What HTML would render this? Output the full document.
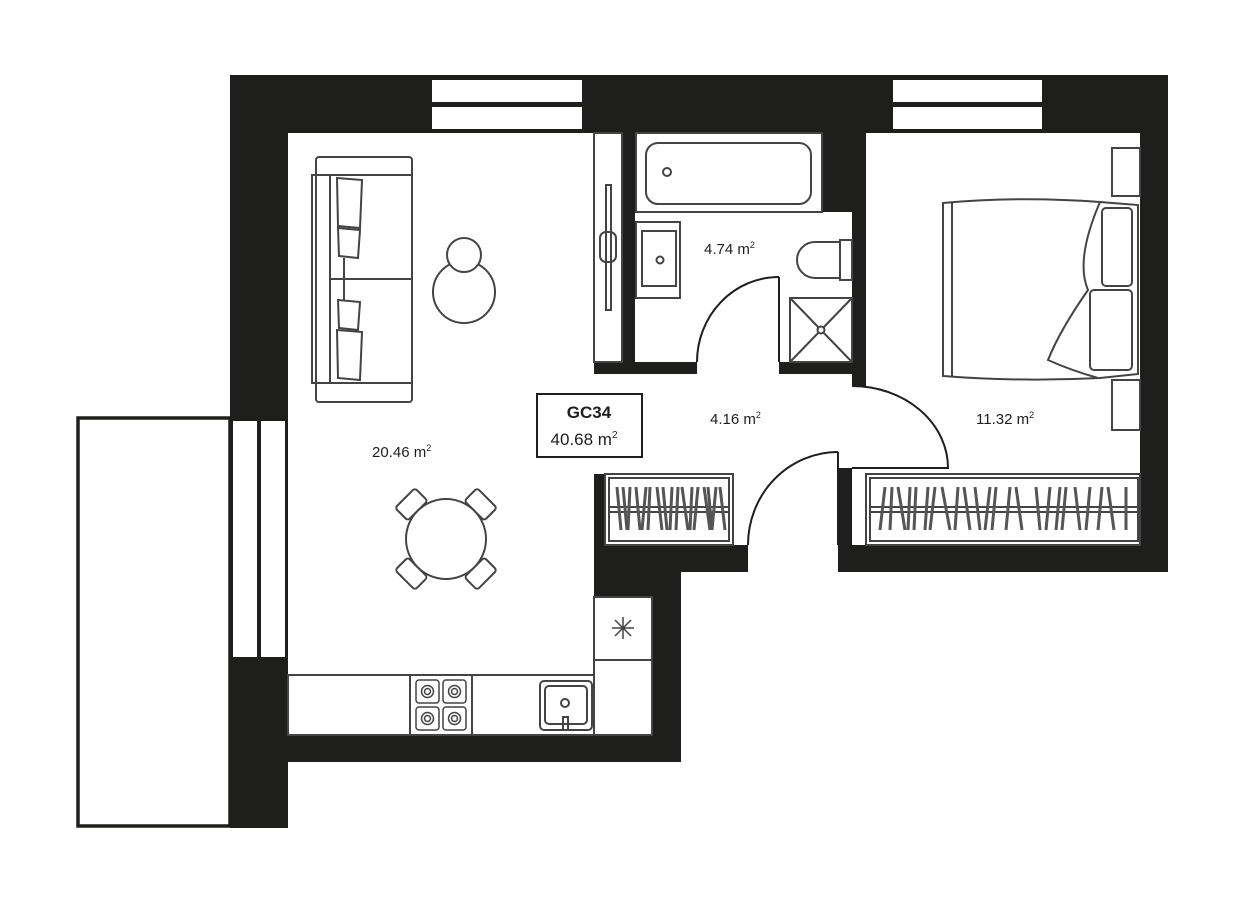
<!DOCTYPE html>
<html><head><meta charset="utf-8"><style>html,body{margin:0;padding:0;background:#fff}svg{display:block}</style></head>
<body>
<svg width="1244" height="904" viewBox="0 0 1244 904" xmlns="http://www.w3.org/2000/svg" font-family="Liberation Sans, sans-serif">
<rect width="1244" height="904" fill="#fff"/>
<g fill="#1e1e1c">
<rect x="230" y="75" width="938" height="58"/>
<rect x="230" y="75" width="58" height="753"/>
<rect x="1140" y="75" width="28" height="497"/>
<rect x="838" y="545" width="330" height="27"/>
<rect x="838" y="468" width="14" height="104"/>
<rect x="230" y="735" width="451" height="27"/>
<rect x="652" y="572" width="29" height="190"/>
<rect x="594" y="545" width="154" height="27"/>
<rect x="594" y="474" width="11" height="123"/>
<rect x="594" y="572" width="87" height="25"/>
<rect x="622" y="133" width="13" height="241"/>
<rect x="594" y="362" width="103" height="12"/>
<rect x="779" y="362" width="87" height="12"/>
<rect x="822" y="133" width="44" height="79"/>
<rect x="852" y="133" width="14" height="253"/>
</g>
<g fill="#fff">
<rect x="432" y="80" width="150" height="22"/><rect x="432" y="107" width="150" height="22"/>
<rect x="893" y="80" width="149" height="22"/><rect x="893" y="107" width="149" height="22"/>
<rect x="233" y="421" width="24" height="236"/><rect x="261" y="421" width="24" height="236"/>
</g>
<g fill="none" stroke="#444" stroke-width="2">
<rect x="78" y="418" width="152" height="408" stroke="#1e1e1c" stroke-width="3.5"/>
<rect x="594" y="133" width="28" height="229"/>
<rect x="606" y="185" width="5" height="125"/>
<rect x="600" y="232" width="16" height="30" rx="6"/>
<rect x="636" y="133" width="186" height="79"/>
<rect x="646" y="143" width="165" height="61" rx="12"/>
<circle cx="667" cy="172" r="4"/>
<rect x="636" y="222" width="44" height="76"/>
<rect x="642" y="231" width="34" height="55"/>
<circle cx="660" cy="260" r="3.5"/>
<path d="M840 242 H815 A18 18 0 0 0 815 278 H840 Z"/>
<rect x="840" y="240" width="12" height="40"/>
<rect x="790" y="298" width="62" height="64"/>
<path d="M790 298 L852 362 M852 298 L790 362"/>
<circle cx="821" cy="330" r="3.5" fill="#fff"/>
<rect x="316" y="157" width="96" height="245" rx="3"/>
<rect x="312" y="175" width="100" height="208"/>
<line x1="330" y1="175" x2="330" y2="383"/>
<line x1="330" y1="279" x2="412" y2="279"/>
<path d="M337 178 L362 180 L360 228 L338 226 Z"/>
<path d="M338 228 L360 230 L358 258 L339 256 Z"/>
<path d="M338 300 L360 302 L358 330 L339 328 Z"/>
<path d="M337 330 L362 332 L360 380 L338 378 Z"/>
<line x1="344" y1="258" x2="344" y2="300"/>
<circle cx="464" cy="292" r="31"/>
<circle cx="464" cy="255" r="17" fill="#fff"/>
<g transform="translate(446,539)">
<rect x="-14" y="-58" width="28" height="18" rx="3" transform="rotate(-45)"/>
<rect x="-14" y="-58" width="28" height="18" rx="3" transform="rotate(45)"/>
<rect x="-14" y="-58" width="28" height="18" rx="3" transform="rotate(135)"/>
<rect x="-14" y="-58" width="28" height="18" rx="3" transform="rotate(225)"/>
<circle r="40" fill="#fff"/>
</g>
<rect x="288" y="675" width="306" height="60"/>
<rect x="594" y="597" width="58" height="138"/>
<line x1="594" y1="660" x2="652" y2="660"/>
<path d="M612 628 H634 M623 617 V639 M615 620 L631 636 M631 620 L615 636" stroke-width="1.5"/>
<rect x="410" y="675" width="62" height="60"/>
<g stroke-width="1.5">
<rect x="416" y="680" width="23" height="23" rx="3"/><rect x="443" y="680" width="23" height="23" rx="3"/>
<rect x="416" y="707" width="23" height="23" rx="3"/><rect x="443" y="707" width="23" height="23" rx="3"/>
<circle cx="427.5" cy="691.5" r="6"/><circle cx="454.5" cy="691.5" r="6"/><circle cx="427.5" cy="718.5" r="6"/><circle cx="454.5" cy="718.5" r="6"/>
<circle cx="427.5" cy="691.5" r="3"/><circle cx="454.5" cy="691.5" r="3"/><circle cx="427.5" cy="718.5" r="3"/><circle cx="454.5" cy="718.5" r="3"/>
</g>
<rect x="540" y="681" width="52" height="49" rx="4"/>
<rect x="545" y="686" width="42" height="38" rx="4"/>
<circle cx="565" cy="703" r="4"/>
<path d="M563 730 V717 H568 V730"/>
<rect x="605" y="474" width="128" height="71"/>
<rect x="609" y="478" width="120" height="63"/>
<line x1="609" y1="507" x2="729" y2="507"/><line x1="609" y1="512" x2="729" y2="512"/>
<rect x="866" y="474" width="274" height="71"/>
<rect x="870" y="478" width="268" height="63"/>
<line x1="870" y1="507" x2="1138" y2="507"/><line x1="870" y1="512" x2="1138" y2="512"/>
</g>
<g stroke="#555" stroke-width="3">
<path d="M617 487 L621 530 M623 487 L627 530 M630 487 L628 530 M636 487 L640 530 M646 487 L642 530 M650 487 L648 530 M657 487 L662 530 M663 487 L667 530 M672 487 L670 530 M678 487 L676 530 M682 487 L688 530 M692 487 L690 530 M698 487 L694 530 M704 487 L710 530 M708 487 L712 530 M716 487 L712 530 M720 487 L725 530"/>
<path d="M885 487 L880 530 M892 487 L890 530 M898 487 L905 530 M910 487 L908 530 M916 487 L914 530 M928 487 L925 530 M935 487 L930 530 M942 487 L950 530 M958 487 L955 530 M964 487 L970 530 M975 487 L980 530 M990 487 L985 530 M996 487 L992 530 M1010 487 L1006 530 M1016 487 L1022 530 M1036 487 L1040 530 M1050 487 L1046 530 M1060 487 L1056 530 M1066 487 L1062 530 M1075 487 L1080 530 M1090 487 L1086 530 M1102 487 L1098 530 M1108 487 L1114 530 M1126 487 L1126 530"/>
</g>
<g fill="none" stroke="#444" stroke-width="2">
<rect x="1112" y="148" width="28" height="48"/>
<rect x="1112" y="380" width="28" height="50"/>
<path d="M943 203 Q1020 196 1100 202 L1138 205 L1138 374 L1100 378 Q1020 382 943 376 Z"/>
<line x1="952" y1="203" x2="952" y2="376"/>
<path d="M1100 202 Q1075 260 1088 290 Q1060 330 1048 360 Q1070 370 1098 378"/>
<rect x="1102" y="208" width="30" height="78" rx="4"/>
<rect x="1090" y="290" width="42" height="80" rx="4"/>
</g>
<g fill="none" stroke="#1e1e1c" stroke-width="2">
<path d="M779 277 A82 85 0 0 0 697 362"/><line x1="779" y1="277" x2="779" y2="362"/>
<path d="M852 386 A96 82 0 0 1 948 468 L852 468"/>
<path d="M838 452 A90 93 0 0 0 748 545"/><line x1="838" y1="452" x2="838" y2="545"/>
</g>
<g fill="#1e1e1c" font-size="15">
<text x="704" y="254">4.74 m<tspan font-size="9" dy="-6">2</tspan></text>
<text x="372" y="457">20.46 m<tspan font-size="9" dy="-6">2</tspan></text>
<text x="710" y="424">4.16 m<tspan font-size="9" dy="-6">2</tspan></text>
<text x="976" y="424">11.32 m<tspan font-size="9" dy="-6">2</tspan></text>
</g>
<rect x="537" y="394" width="105" height="63" fill="#fff" stroke="#1e1e1c" stroke-width="2"/>
<text x="589" y="418" text-anchor="middle" font-size="17" font-weight="bold" fill="#1e1e1c">GC34</text>
<text x="584" y="445" text-anchor="middle" font-size="17" fill="#1e1e1c">40.68 m<tspan font-size="10" dy="-7">2</tspan></text>
</svg>
</body></html>
